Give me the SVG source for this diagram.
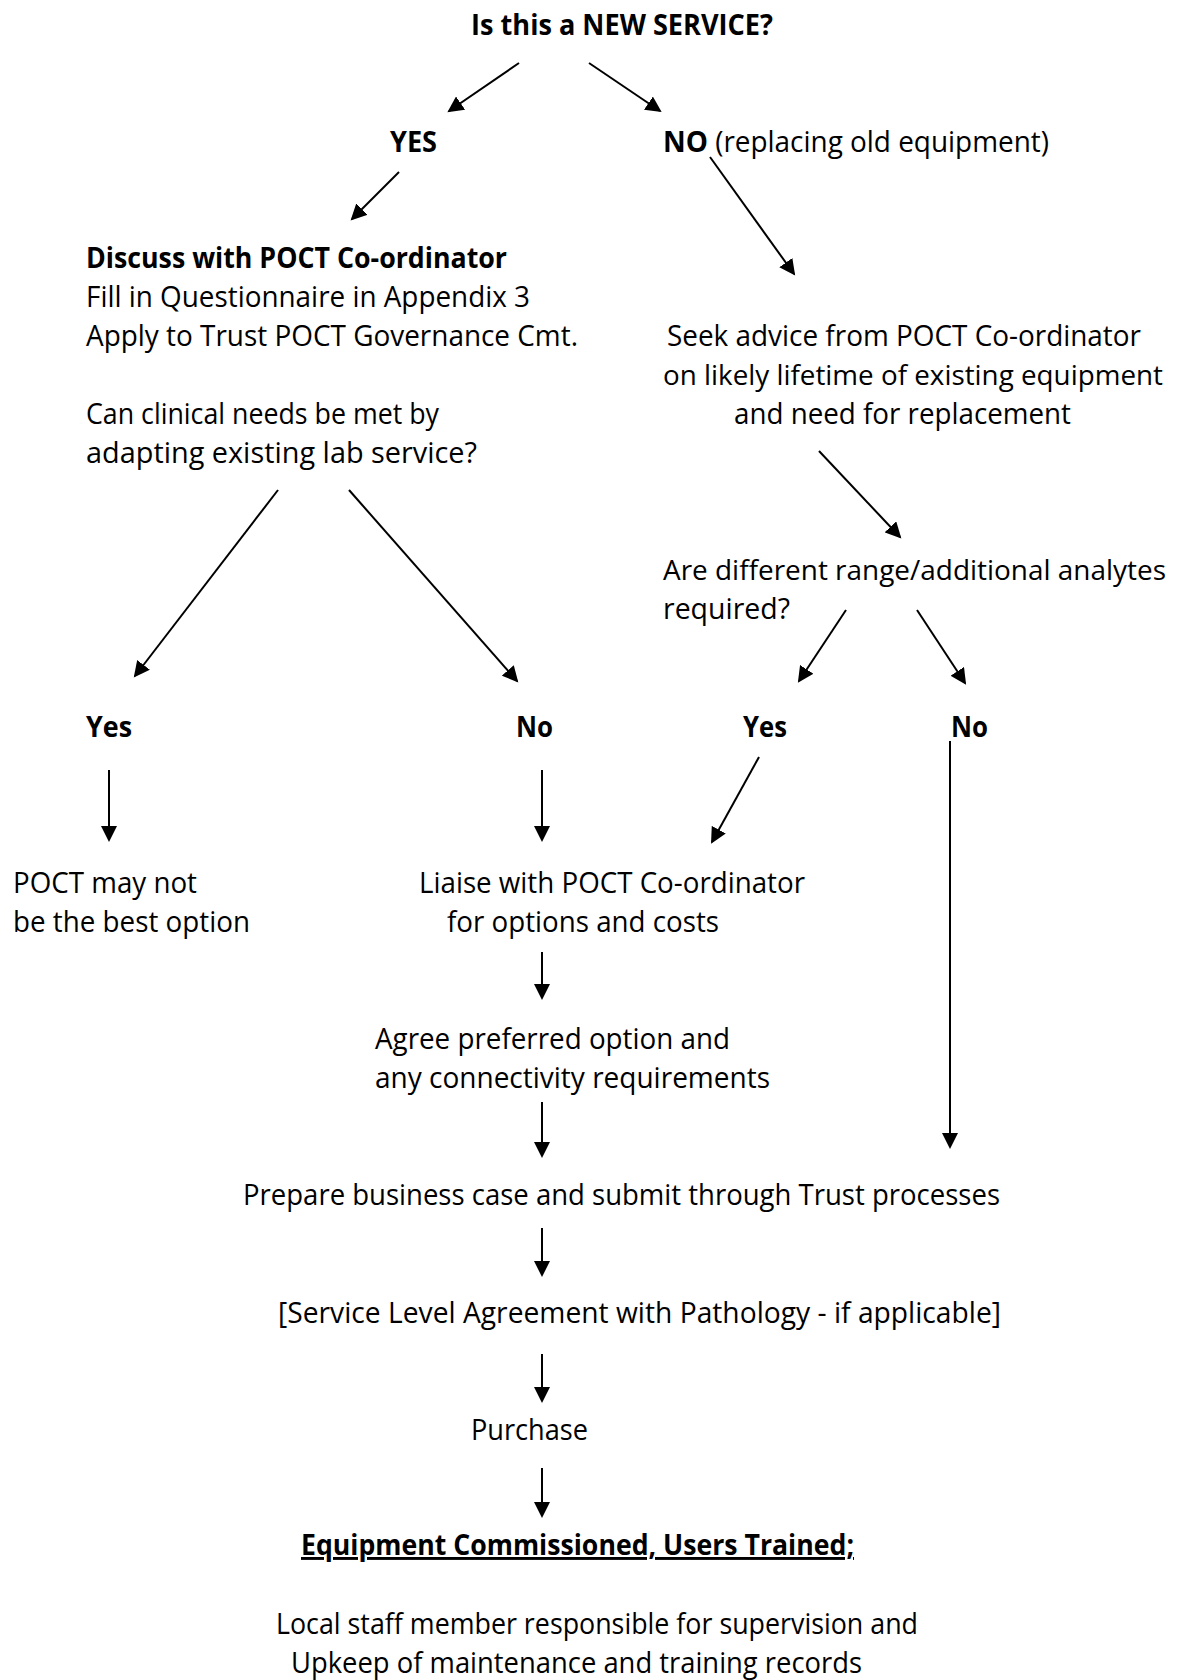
<svg xmlns="http://www.w3.org/2000/svg" width="1177" height="1680" viewBox="0 0 1177 1680">
  <style>
    text { font-family: "Open Sans", "Noto Sans", "Liberation Sans", sans-serif; font-size: 29px; fill: #000; }
    .b { font-weight: 700; }
    .u { text-decoration: underline; }
    .end { text-anchor: end; }
    .tight { font-size: 27px; }
    .conn line { stroke: #000; stroke-width: 2; fill: none; marker-end: url(#arrow); }
  </style>
  <defs>
    <marker id="arrow" markerUnits="userSpaceOnUse" markerWidth="17" markerHeight="16" refX="14" refY="8" orient="auto">
      <path d="M0,0 L16,8 L0,16 Z" fill="#000"/>
    </marker>
  </defs>
  <rect width="1177" height="1680" fill="#fff"/>

  <!-- Nodes -->
  <g id="q-new-service">
    <text class="b" x="471" y="35" textLength="302" lengthAdjust="spacingAndGlyphs">Is this a NEW SERVICE?</text>
  </g>
  <g id="yes-new">
    <text class="b" x="390" y="152" textLength="47" lengthAdjust="spacingAndGlyphs">YES</text>
  </g>
  <g id="no-replacing">
    <text x="663" y="152" textLength="386" lengthAdjust="spacingAndGlyphs"><tspan class="b">NO</tspan> (replacing old equipment)</text>
  </g>
  <g id="discuss">
    <text class="b" x="86" y="268" textLength="421" lengthAdjust="spacingAndGlyphs">Discuss with POCT Co-ordinator</text>
    <text x="86" y="307" textLength="444" lengthAdjust="spacingAndGlyphs">Fill in Questionnaire in Appendix 3</text>
    <text x="86" y="346" textLength="492" lengthAdjust="spacingAndGlyphs">Apply to Trust POCT Governance Cmt.</text>
    <text x="86" y="424" textLength="353" lengthAdjust="spacingAndGlyphs">Can clinical needs be met by</text>
    <text x="86" y="463" textLength="391" lengthAdjust="spacingAndGlyphs">adapting existing lab service?</text>
  </g>
  <g id="seek-advice">
    <text x="667" y="346" textLength="474" lengthAdjust="spacingAndGlyphs">Seek advice from POCT Co-ordinator</text>
    <text class="end tight" x="1163" y="385" textLength="500" lengthAdjust="spacingAndGlyphs">on likely lifetime of existing equipment</text>
    <text x="734" y="424" textLength="337" lengthAdjust="spacingAndGlyphs">and need for replacement</text>
  </g>
  <g id="q-analytes">
    <text class="end tight" x="1166" y="580" textLength="503" lengthAdjust="spacingAndGlyphs">Are different range/additional analytes</text>
    <text x="663" y="619" textLength="127" lengthAdjust="spacingAndGlyphs">required?</text>
  </g>
  <g id="yes-lab">
    <text class="b" x="86" y="737" textLength="46" lengthAdjust="spacingAndGlyphs">Yes</text>
  </g>
  <g id="no-lab">
    <text class="b" x="516" y="737" textLength="37" lengthAdjust="spacingAndGlyphs">No</text>
  </g>
  <g id="yes-analytes">
    <text class="b" x="743" y="737" textLength="44" lengthAdjust="spacingAndGlyphs">Yes</text>
  </g>
  <g id="no-analytes">
    <text class="b" x="951" y="737" textLength="37" lengthAdjust="spacingAndGlyphs">No</text>
  </g>
  <g id="not-best">
    <text x="13" y="893" textLength="184" lengthAdjust="spacingAndGlyphs">POCT may not</text>
    <text x="13" y="932" textLength="237" lengthAdjust="spacingAndGlyphs">be the best option</text>
  </g>
  <g id="liaise">
    <text x="419" y="893" textLength="386" lengthAdjust="spacingAndGlyphs">Liaise with POCT Co-ordinator</text>
    <text x="447" y="932" textLength="272" lengthAdjust="spacingAndGlyphs">for options and costs</text>
  </g>
  <g id="agree">
    <text x="375" y="1049" textLength="355" lengthAdjust="spacingAndGlyphs">Agree preferred option and</text>
    <text x="375" y="1088" textLength="395" lengthAdjust="spacingAndGlyphs">any connectivity requirements</text>
  </g>
  <g id="business-case">
    <text x="243" y="1205" textLength="757" lengthAdjust="spacingAndGlyphs">Prepare business case and submit through Trust processes</text>
  </g>
  <g id="sla">
    <text x="278" y="1323" textLength="723" lengthAdjust="spacingAndGlyphs">[Service Level Agreement with Pathology - if applicable]</text>
  </g>
  <g id="purchase">
    <text x="471" y="1440" textLength="117" lengthAdjust="spacingAndGlyphs">Purchase</text>
  </g>
  <g id="commissioned">
    <text class="b u" x="301" y="1555" textLength="553" lengthAdjust="spacingAndGlyphs">Equipment Commissioned, Users Trained;</text>
  </g>
  <g id="local-staff">
    <text x="276" y="1634" textLength="642" lengthAdjust="spacingAndGlyphs">Local staff member responsible for supervision and</text>
    <text x="291" y="1673" textLength="571" lengthAdjust="spacingAndGlyphs">Upkeep of maintenance and training records</text>
  </g>

  <!-- Connectors -->
  <g id="connectors" class="conn">
    <line x1="519" y1="63" x2="449" y2="111"/>
    <line x1="589" y1="63" x2="660" y2="111"/>
    <line x1="399" y1="172" x2="352" y2="219"/>
    <line x1="710" y1="157" x2="794" y2="274"/>
    <line x1="819" y1="451" x2="900" y2="537"/>
    <line x1="278" y1="490" x2="135" y2="676"/>
    <line x1="349" y1="490" x2="517" y2="681"/>
    <line x1="846" y1="610" x2="799" y2="681"/>
    <line x1="917" y1="610" x2="965" y2="683"/>
    <line x1="109" y1="770" x2="109" y2="840"/>
    <line x1="542" y1="770" x2="542" y2="840"/>
    <line x1="759" y1="757" x2="712" y2="842"/>
    <line x1="950" y1="741" x2="950" y2="1147"/>
    <line x1="542" y1="952" x2="542" y2="998"/>
    <line x1="542" y1="1102" x2="542" y2="1156"/>
    <line x1="542" y1="1228" x2="542" y2="1275"/>
    <line x1="542" y1="1354" x2="542" y2="1401"/>
    <line x1="542" y1="1468" x2="542" y2="1516"/>
  </g>
</svg>
